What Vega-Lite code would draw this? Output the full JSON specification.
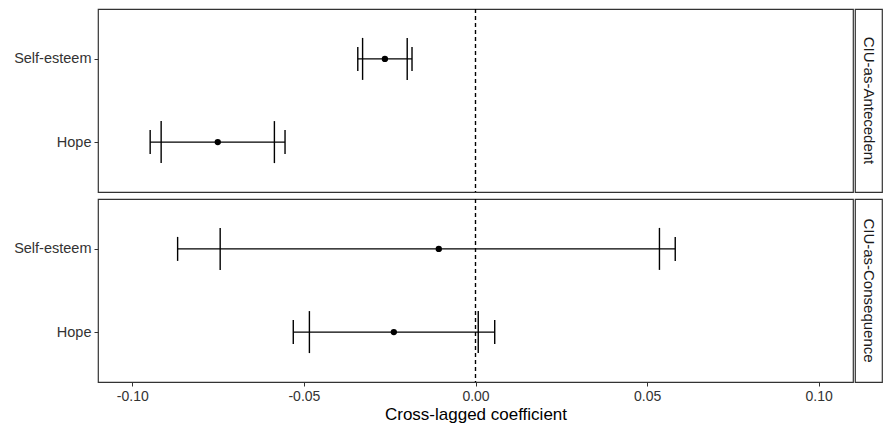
{
  "$schema": "https://vega.github.io/schema/vega-lite/v6.json",
  "padding": {"left": 13, "top": 7, "right": 0, "bottom": 5},
  "background": "white",
  "datasets": {
    "est": [
      {"panel": "CIU-as-Antecedent", "var": "Self-esteem", "est": -0.0264, "lo_in": -0.0329, "hi_in": -0.0199, "lo_out": -0.0343, "hi_out": -0.0185},
      {"panel": "CIU-as-Antecedent", "var": "Hope", "est": -0.0751, "lo_in": -0.0916, "hi_in": -0.0586, "lo_out": -0.0948, "hi_out": -0.0555},
      {"panel": "CIU-as-Consequence", "var": "Self-esteem", "est": -0.0107, "lo_in": -0.0744, "hi_in": 0.0536, "lo_out": -0.0868, "hi_out": 0.0582},
      {"panel": "CIU-as-Consequence", "var": "Hope", "est": -0.0238, "lo_in": -0.0484, "hi_in": 0.0008, "lo_out": -0.0531, "hi_out": 0.0056}
    ],
    "strips": [
      {"panel": "CIU-as-Antecedent"},
      {"panel": "CIU-as-Consequence"}
    ]
  },
  "config": {
    "font": "Liberation Sans",
    "view": {"stroke": "#333333", "strokeWidth": 1.2},
    "concat": {"spacing": 0},
    "axis": {"grid": false, "domain": false, "tickColor": "#333333", "tickSize": 4, "labelFontSize": 14, "labelColor": "#333333", "titleFontSize": 17, "titleFontWeight": "normal", "titleColor": "black"}
  },
  "vconcat": [
    {
      "hconcat": [
        {
          "width": 755, "height": 183,
          "data": {"name": "est"},
          "transform": [{"filter": "datum.panel === 'CIU-as-Antecedent'"}],
          "layer": [
            {"mark": {"type": "rule", "strokeDash": [4, 3], "color": "black", "strokeWidth": 1.2}, "encoding": {"x": {"datum": 0, "type": "quantitative", "scale": {"domain": [-0.11, 0.11], "nice": false, "zero": false}, "axis": null}}},
            {"mark": {"type": "rule", "color": "black", "strokeWidth": 1.3}, "encoding": {"x": {"field": "lo_out", "type": "quantitative", "axis": null}, "x2": {"field": "hi_out"}, "y": {"field": "var", "type": "nominal", "sort": ["Self-esteem", "Hope"], "scale": {"type": "point", "padding": 0.6}, "axis": {"title": null, "labelPadding": 3, "labelFontSize": 14.5}}}},
            {"transform": [{"fold": ["lo_in", "hi_in"], "as": ["k", "v"]}], "mark": {"type": "tick", "color": "black", "size": 42, "thickness": 1.4, "opacity": 1}, "encoding": {"x": {"field": "v", "type": "quantitative", "axis": null}, "y": {"field": "var", "type": "nominal", "sort": ["Self-esteem", "Hope"]}}},
            {"transform": [{"fold": ["lo_out", "hi_out"], "as": ["k", "v"]}], "mark": {"type": "tick", "color": "black", "size": 24, "thickness": 1.4, "opacity": 1}, "encoding": {"x": {"field": "v", "type": "quantitative", "axis": null}, "y": {"field": "var", "type": "nominal", "sort": ["Self-esteem", "Hope"]}}},
            {"mark": {"type": "point", "filled": true, "color": "black", "size": 40, "opacity": 1}, "encoding": {"x": {"field": "est", "type": "quantitative", "axis": null}, "y": {"field": "var", "type": "nominal", "sort": ["Self-esteem", "Hope"]}}}
          ]
        },
        {
          "width": 27, "height": 183,
          "data": {"name": "strips"},
          "transform": [{"filter": "datum.panel === 'CIU-as-Antecedent'"}],
          "mark": {"type": "text", "angle": 90, "fontSize": 15, "color": "#1a1a1a"},
          "encoding": {
            "text": {"field": "panel"},
            "x": {"field": "panel", "type": "nominal", "axis": null},
            "y": {"field": "panel", "type": "nominal", "axis": null}
          }
        }
      ]
    },
    {
      "hconcat": [
        {
          "width": 755, "height": 183,
          "data": {"name": "est"},
          "transform": [{"filter": "datum.panel === 'CIU-as-Consequence'"}],
          "layer": [
            {"mark": {"type": "rule", "strokeDash": [4, 3], "color": "black", "strokeWidth": 1.2}, "encoding": {"x": {"datum": 0, "type": "quantitative", "scale": {"domain": [-0.11, 0.11], "nice": false, "zero": false}, "axis": {"title": "Cross-lagged coefficient", "values": [-0.1, -0.05, 0, 0.05, 0.1], "labelExpr": "replace(format(datum.value, '.2f'), '\u2212', '-')", "labelPadding": 3, "titlePadding": 3}}}},
            {"mark": {"type": "rule", "color": "black", "strokeWidth": 1.3}, "encoding": {"x": {"field": "lo_out", "type": "quantitative"}, "x2": {"field": "hi_out"}, "y": {"field": "var", "type": "nominal", "sort": ["Self-esteem", "Hope"], "scale": {"type": "point", "padding": 0.6}, "axis": {"title": null, "labelPadding": 3, "labelFontSize": 14.5}}}},
            {"transform": [{"fold": ["lo_in", "hi_in"], "as": ["k", "v"]}], "mark": {"type": "tick", "color": "black", "size": 42, "thickness": 1.4, "opacity": 1}, "encoding": {"x": {"field": "v", "type": "quantitative"}, "y": {"field": "var", "type": "nominal", "sort": ["Self-esteem", "Hope"]}}},
            {"transform": [{"fold": ["lo_out", "hi_out"], "as": ["k", "v"]}], "mark": {"type": "tick", "color": "black", "size": 24, "thickness": 1.4, "opacity": 1}, "encoding": {"x": {"field": "v", "type": "quantitative"}, "y": {"field": "var", "type": "nominal", "sort": ["Self-esteem", "Hope"]}}},
            {"mark": {"type": "point", "filled": true, "color": "black", "size": 40, "opacity": 1}, "encoding": {"x": {"field": "est", "type": "quantitative"}, "y": {"field": "var", "type": "nominal", "sort": ["Self-esteem", "Hope"]}}}
          ]
        },
        {
          "width": 27, "height": 183,
          "data": {"name": "strips"},
          "transform": [{"filter": "datum.panel === 'CIU-as-Consequence'"}],
          "mark": {"type": "text", "angle": 90, "fontSize": 15, "color": "#1a1a1a"},
          "encoding": {
            "text": {"field": "panel"},
            "x": {"field": "panel", "type": "nominal", "axis": null},
            "y": {"field": "panel", "type": "nominal", "axis": null}
          }
        }
      ]
    }
  ],
  "spacing": 3
}
